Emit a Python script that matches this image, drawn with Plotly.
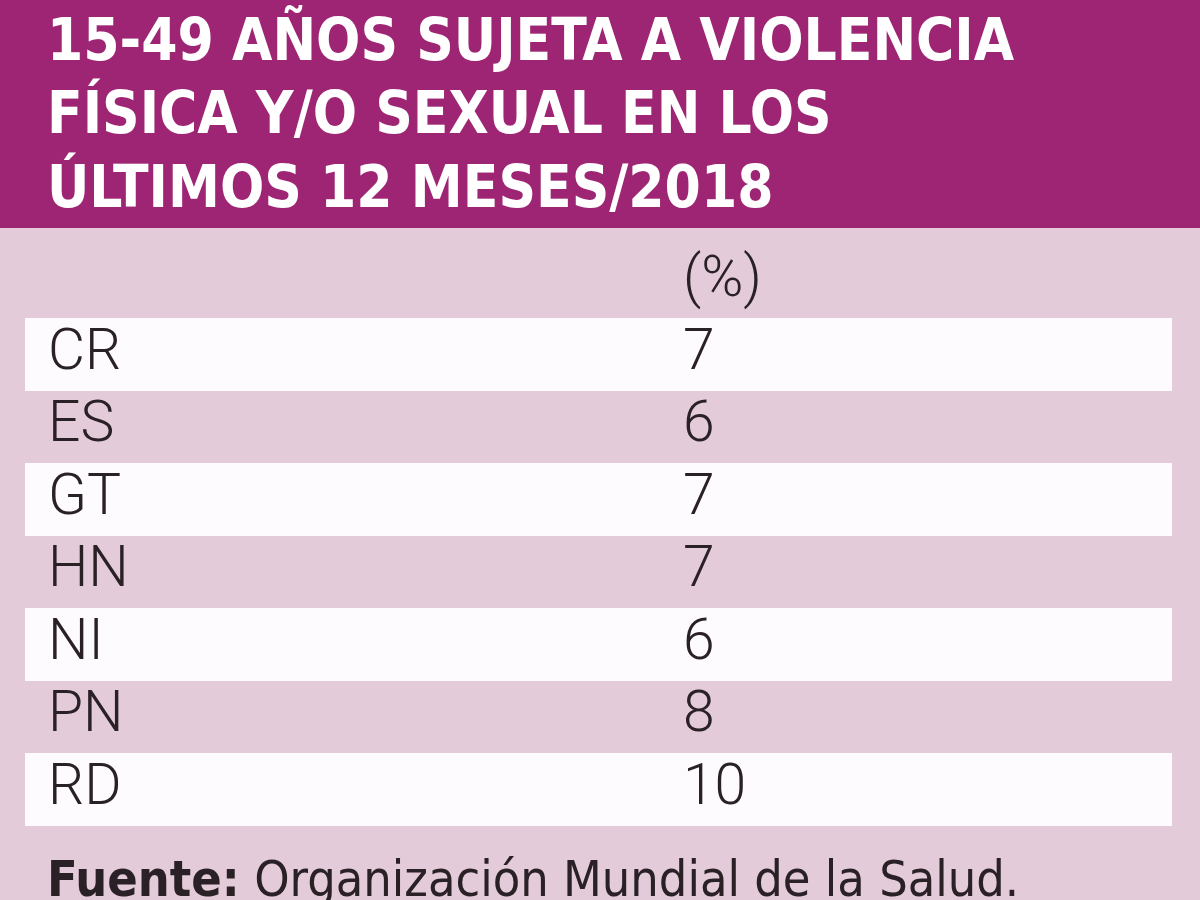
import plotly.graph_objects as go

# ---- data ----
title_lines = [
    "15-49 AÑOS SUJETA A VIOLENCIA",
    "FÍSICA Y/O SEXUAL EN LOS",
    "ÚLTIMOS 12 MESES/2018",
]
countries = ["CR", "ES", "GT", "HN", "NI", "PN", "RD"]
values = [7, 6, 7, 7, 6, 8, 10]
value_header = "(%)"
source_label = "Fuente:"
source_text = "Organización Mundial de la Salud."

# ---- styles ----
PURPLE = "#9e2573"
PINK = "#e4cbda"
WHITE = "#fdfbfd"
DARK = "#2a2126"
W, H = 1200, 900
COND = "DejaVu Sans Condensed, Liberation Sans Narrow, sans-serif"

row_colors = [WHITE if i % 2 == 0 else PINK for i in range(len(countries))]

fig = go.Figure()

fig.add_trace(go.Table(
    domain=dict(x=[25 / W, 1172 / W], y=[0, 1 - 245 / H]),
    columnwidth=[15, 635, 497],
    header=dict(
        values=["", "", value_header],
        fill=dict(color=PINK),
        line=dict(color=PINK, width=0),
        align="left",
        height=73,
        font=dict(family="Roboto", size=57, color=DARK, weight=300),
    ),
    cells=dict(
        values=[[""] * len(countries), countries, values],
        fill=dict(color=[row_colors] * 3),
        line=dict(color=[row_colors] * 3, width=0),
        align="left",
        height=72.5,
        font=dict(family="Roboto", size=57, color=DARK, weight=300),
    ),
))

# purple header band
fig.add_shape(type="rect", xref="paper", yref="paper", x0=0, x1=1,
              y0=1 - 228 / H, y1=1, fillcolor=PURPLE, line=dict(width=0),
              layer="below")

title_mid = [40, 113, 186]
for line, ym in zip(title_lines, title_mid):
    fig.add_annotation(
        text=line, xref="paper", yref="paper", x=45 / W, y=1 - ym / H,
        xanchor="left", yanchor="middle", showarrow=False,
        font=dict(family=COND, size=58, color="white", weight="bold"),
    )

fig.add_annotation(
    text=f"<b>{source_label}</b> {source_text}",
    xref="paper", yref="paper", x=45 / W, y=1 - 879 / H,
    xanchor="left", yanchor="middle", showarrow=False,
    font=dict(family=COND, size=50, color=DARK),
)

fig.update_layout(
    width=W, height=H,
    margin=dict(l=0, r=0, t=0, b=0),
    paper_bgcolor=PINK, plot_bgcolor=PINK,
    showlegend=False,
)

fig.write_html(
    "out.html",
    config={"displayModeBar": False},
    post_script="document.body.style.margin='0';document.body.style.overflow='hidden';",
)
